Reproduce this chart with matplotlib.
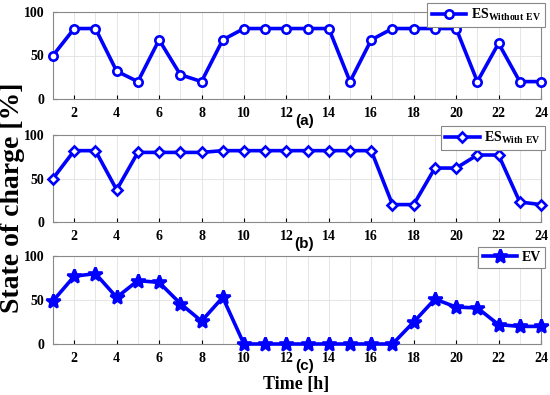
import matplotlib.pyplot as plt

hours = list(range(1, 25))
es_without_ev = [50, 81, 81, 32, 20, 68, 28, 20, 68, 81, 81, 81, 81, 81, 20, 68,
                 81, 81, 81, 81, 20, 64, 20, 20]
es_with_ev = [50, 82, 82, 37, 80, 80, 80, 80, 82, 82, 82, 82, 82, 82, 82, 82,
              20, 20, 62, 62, 77, 77, 23, 20]
ev = [49, 77, 80, 53, 72, 70, 46, 26, 53, 0, 0, 0, 0, 0, 0, 0,
      0, 25, 51, 42, 41, 22, 20, 20]

labels = [r'$\mathbf{ES_{Without\ EV}}$', r'$\mathbf{ES_{With\ EV}}$', 'EV']
panels = ['(a)', '(b)', '(c)']
series = [es_without_ev, es_with_ev, ev]
markers = ['o', 'D', '*']
msizes = [6, 5.5, 10]

plt.rcParams['mathtext.fontset'] = 'custom'
plt.rcParams['mathtext.bf'] = 'Liberation Serif:bold'
plt.rcParams['mathtext.rm'] = 'Liberation Serif'

fig = plt.figure(figsize=(5.5, 3.95), dpi=100)
W, H = 550.0, 395.0
boxes = [(12, 99), (135, 222), (256, 344)]
left, right = 53, 541

for i, (top, bot) in enumerate(boxes):
    ax = fig.add_axes([left / W, 1 - bot / H, (right - left) / W, (bot - top) / H])
    mfc = 'white' if markers[i] in ('o', 'D') else 'blue'
    ax.plot(hours, series[i], color='blue', lw=2.6, marker=markers[i], ms=msizes[i],
            mfc=mfc, mec='blue', mew=1.9, label=labels[i], clip_on=False, zorder=3)
    ax.set_xlim(1, 24)
    ax.set_ylim(0, 100)
    ax.set_xticks(range(2, 25, 2))
    ax.set_xticks(range(1, 25), minor=True)
    ax.set_yticks([0, 50, 100])
    ax.grid(True, which='both', axis='x', color='#e0e0e0', lw=0.6)
    ax.grid(True, axis='y', color='#e0e0e0', lw=0.6)
    ax.tick_params(which='both', direction='in', length=3, labelsize=10, pad=6)
    ax.tick_params(which='minor', length=0)
    for lab in ax.get_xticklabels() + ax.get_yticklabels():
        lab.set_fontfamily('Liberation Serif')
        lab.set_fontweight('bold')
    for sp in ax.spines.values():
        sp.set_color('#888888')
        sp.set_linewidth(0.8)
    ax.text(0.515, -22 / (bot - top), panels[i], transform=ax.transAxes, ha='center',
            va='center', fontsize=11, fontweight='bold', family='Liberation Sans')
    leg = ax.legend(loc='upper right', bbox_to_anchor=(1.008, 1.105),
                    prop={'family': 'Liberation Serif', 'weight': 'bold', 'size': 10},
                    fancybox=False, edgecolor='#888888', framealpha=1,
                    handlelength=2.5, borderpad=0.3, handletextpad=0.3,
                    borderaxespad=0)
    leg.get_frame().set_linewidth(0.8)

fig.text(296 / W, 1 - 385 / H, 'Time [h]', ha='center', va='center',
         fontsize=13, fontweight='bold', family='Liberation Serif')
fig.text(13 / W, 0.5, 'State of charge [%]', rotation=90, ha='center', va='center',
         fontsize=20, fontweight='bold', family='Liberation Serif')

fig.savefig('out.png', dpi=100)
